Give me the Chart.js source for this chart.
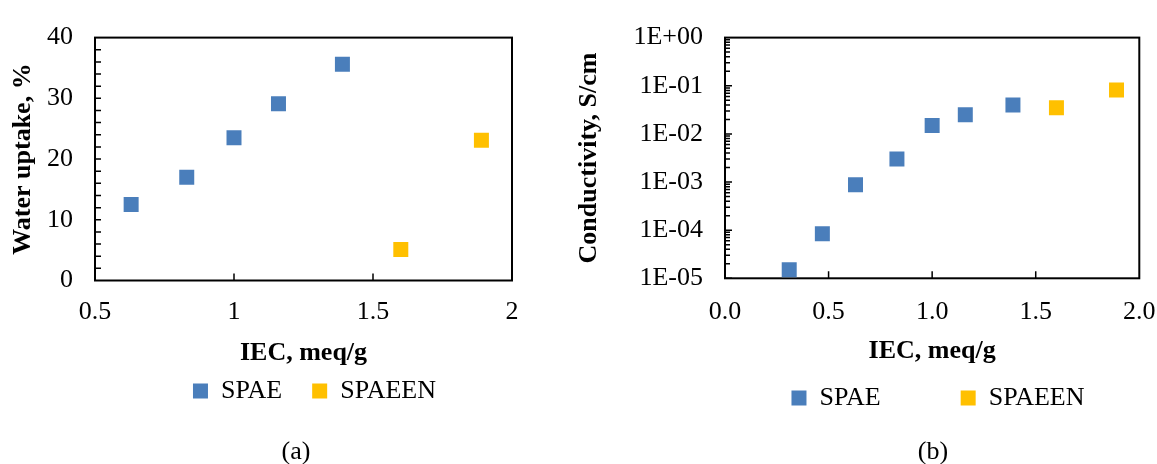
<!DOCTYPE html>
<html lang="en">
<head>
<meta charset="UTF-8">
<title>IEC vs water uptake and conductivity</title>
<script src="https://cdn.jsdelivr.net/npm/chart.js"></script>
<style>
  body { margin: 0; width: 1157px; height: 464px; overflow: hidden; background: #fff; position: relative;
         font-family: "Liberation Serif", "Times New Roman", serif; }
  .box { position: absolute; top: 0; height: 464px; }
  #wrapA { left: 0; width: 575px; }
  #wrapB { left: 574px; width: 600px; }
  .cap { position: absolute; top: 436px; width: 100px; font-size: 26px; line-height: 30px; text-align: center; color: #000; }
</style>
</head>
<body>
<div id="wrapA" class="box"><canvas id="chartA"></canvas></div>
<div id="wrapB" class="box"><canvas id="chartB"></canvas></div>
<div class="cap" style="left:246px">(a)</div>
<div class="cap" style="left:883px">(b)</div>
<script>
  const serif = '"Liberation Serif", "Times New Roman", serif';
  Chart.defaults.font.family = serif;
  Chart.defaults.color = '#000';

  // (a) water uptake vs IEC
  const iecSpaeA = [0.63, 0.83, 1.00, 1.16, 1.39];
  const uptakeSpae = [12.5, 17.0, 23.5, 29.1, 35.6];
  const iecSpaeenA = [1.60, 1.89];
  const uptakeSpaeen = [5.1, 23.1];
  const xTicksA = [0.5, 1, 1.5, 2];
  const yTicksA = [0, 10, 20, 30, 40];
  const yMinorA = [2, 4, 6, 8, 10, 12, 14, 16, 18, 20, 22, 24, 26, 28, 30, 32, 34, 36, 38];

  // (b) conductivity vs IEC (log axis)
  const iecSpaeB = [0.31, 0.47, 0.63, 0.83, 1.00, 1.16, 1.39];
  const condSpae = [1.5e-5, 8.4e-5, 8.8e-4, 3.0e-3, 1.5e-2, 2.5e-2, 4.0e-2];
  const iecSpaeenB = [1.60, 1.89];
  const condSpaeen = [3.5e-2, 8.2e-2];
  const xTicksB = [0, 0.5, 1, 1.5, 2];
  const yTicksB = [1e-5, 1e-4, 1e-3, 1e-2, 1e-1, 1];

  const blue = '#4A7EBB';
  const gold = '#FFC000';

  // minor tick marks for the log axis: 2..9 in every decade
  const yMinorB = [];
  yTicksB.slice(0, -1).forEach(d => {
    yMinorB.push([d, 7]);
    for (let k = 2; k < 10; k++) yMinorB.push([d * k, 5]);
  });

  // frame round the plot, inward tick marks, and legend placement
  const frame = {
    id: 'frame',
    afterLayout(chart, args, o) {
      const lg = chart.legend;
      const w = lg.right - lg.left;
      lg.left = o.legendX - w / 2;
      lg.right = lg.left + w;
      lg.top = o.legendY - o.legendPad - 13;
      lg.bottom = o.legendY + 30;   // legend clips to its box, keep the items inside
    },
    beforeDatasetsDraw(chart, args, o) {
      const { ctx, chartArea: a, scales: { x, y } } = chart;
      ctx.save();
      ctx.strokeStyle = '#000';
      ctx.lineWidth = 1.5;
      ctx.beginPath();
      o.xMarks.forEach(v => {
        const px = x.getPixelForValue(v);
        ctx.moveTo(px, a.bottom);
        ctx.lineTo(px, a.bottom - 7);
      });
      o.yMarks.forEach(m => {
        const py = y.getPixelForValue(m[0]);
        ctx.moveTo(a.left, py);
        ctx.lineTo(a.left + m[1], py);
      });
      ctx.stroke();
      ctx.lineWidth = 2;
      ctx.strokeRect(a.left, a.top, a.right - a.left, a.bottom - a.top);
      ctx.restore();
    }
  };

  function points(xs, ys) {
    return xs.map((v, i) => ({ x: v, y: ys[i] }));
  }

  function series(label, data, color) {
    return {
      label: label,
      data: data,
      backgroundColor: color,
      borderColor: color,
      borderWidth: 0,
      pointStyle: 'rect',
      pointRadius: 10.6,
      pointHoverRadius: 10.6
    };
  }

  function axis(ticks, label, extra) {
    return Object.assign({
      afterBuildTicks: s => { s.ticks = ticks.map(value => ({ value })); },
      grid: { display: false, drawTicks: false },
      border: { display: false },
      title: { display: true, text: label, font: { size: 26, weight: 'bold' }, padding: 0 }
    }, extra);
  }

  function legend(pad) {
    return {
      position: 'bottom',
      maxHeight: 40,
      labels: { font: { size: 26 }, boxWidth: 15, boxHeight: 15, padding: pad, color: '#000' }
    };
  }

  new Chart(document.getElementById('chartA'), {
    type: 'scatter',
    data: {
      datasets: [
        series('SPAE', points(iecSpaeA, uptakeSpae), blue),
        series('SPAEEN', points(iecSpaeenA, uptakeSpaeen), gold)
      ]
    },
    options: {
      responsive: true,
      maintainAspectRatio: false,
      animation: false,
      layout: { padding: { left: 8, top: 25.5, right: 63, bottom: 55.5 } },
      plugins: {
        legend: legend(30),
        tooltip: { enabled: false },
        frame: { xMarks: [1, 1.5], yMarks: yMinorA.map(v => [v, 6]), legendX: 314.5, legendY: 391, legendPad: 30 }
      },
      scales: {
        x: axis(xTicksA, 'IEC, meq/g', {
          type: 'linear', min: 0.5, max: 2,
          afterFit: s => { s.height = 88; },
          ticks: { font: { size: 26 }, autoSkip: false, maxRotation: 0, padding: 16, callback: v => String(v) }
        }),
        y: axis(yTicksA, 'Water uptake, %', {
          min: 0, max: 40,
          afterFit: s => { s.width = 87; },
          ticks: { font: { size: 26 }, autoSkip: false, padding: 22, callback: v => String(v) }
        })
      }
    },
    plugins: [frame]
  });

  new Chart(document.getElementById('chartB'), {
    type: 'scatter',
    data: {
      datasets: [
        series('SPAE', points(iecSpaeB, condSpae), blue),
        series('SPAEEN', points(iecSpaeenB, condSpaeen), gold)
      ]
    },
    options: {
      responsive: true,
      maintainAspectRatio: false,
      animation: false,
      layout: { padding: { left: 0, top: 27.5, right: 34.7, bottom: 57.4 } },
      plugins: {
        legend: legend(80),
        tooltip: { enabled: false },
        frame: { xMarks: [0.5, 1, 1.5], yMarks: yMinorB, legendX: 364, legendY: 398, legendPad: 80 }
      },
      scales: {
        x: axis(xTicksB, 'IEC, meq/g', {
          type: 'linear', min: 0, max: 2,
          afterFit: s => { s.height = 88.3; },
          ticks: { font: { size: 26 }, autoSkip: false, maxRotation: 0, padding: 18, callback: v => v.toFixed(1) }
        }),
        y: axis(yTicksB, 'Conductivity, S/cm', {
          type: 'logarithmic', min: 1e-5, max: 1,
          afterFit: s => { s.width = 151; },
          ticks: {
            font: { size: 26 }, autoSkip: false, padding: 22,
            callback: v => {
              const e = Math.round(Math.log10(v));
              return '1E' + (e < 0 ? '-' : '+') + String(Math.abs(e)).padStart(2, '0');
            }
          }
        })
      }
    },
    plugins: [frame]
  });
</script>
</body>
</html>
